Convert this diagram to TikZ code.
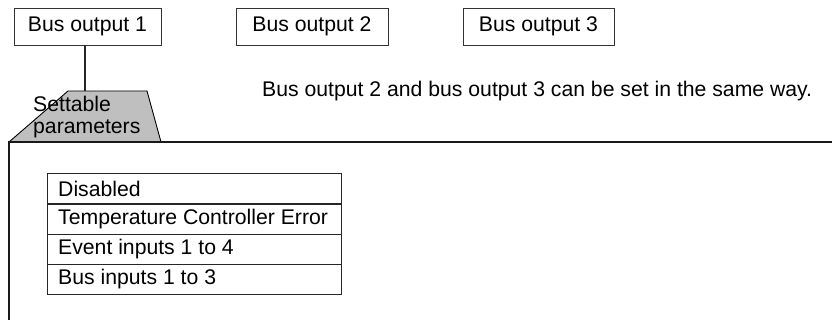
\documentclass[tikz,border=0pt]{standalone}
\usepackage{fontspec}
\setmainfont{Liberation Sans}
\begin{document}
\begin{tikzpicture}[x=1pt,y=-1pt,
  every node/.style={font=\fontsize{21.2}{21.5}\selectfont},
  outbox/.style={draw=black!80, line width=0.8pt, minimum height=37pt, inner sep=0pt},
  rowbox/.style={draw=black!85, line width=0.9pt, minimum height=30pt, minimum width=294pt, inner sep=0pt},
  frame/.style={line width=1.5pt, black!90},
  link/.style={line width=2.8pt, black!85},
  tabfill/.style={fill=black!25}]
\useasboundingbox (0,0) rectangle (832,320);
% tab shape
\coordinate (tl) at (68,91);
\coordinate (tr) at (147,91);
\coordinate (bl) at (9,142);
\coordinate (br) at (161,142);
\fill[tabfill] (bl) -- (tl) -- (tr) -- (br) -- cycle;
\draw[line width=0.9pt] (bl) -- (tl) -- (tr) -- (br);
% bus output boxes
\node[outbox, minimum width=147pt] (b1) at (87.5,26.5) {Bus output 1};
\node[outbox, minimum width=152pt] (b2) at (312,26.5) {Bus output 2};
\node[outbox, minimum width=151pt] (b3) at (538.5,26.5) {Bus output 3};
\coordinate (tabtop) at (85,91);
\draw[link] (b1.south -| tabtop) -- (tabtop);
\node[anchor=north west, align=left, inner sep=0pt] (tab) at (33,96) {Settable\\parameters};
% frame
\draw[frame] (9,320) -- (bl) -- (832,142);
% note
\node[anchor=west, inner sep=0pt] (note) at (262,91) {Bus output 2 and bus output 3 can be set in the same way.};
% list
\node[rowbox] (r1) at (194,188.5) {};
\node[rowbox] (r2) at (194,219) {};
\node[rowbox] (r3) at (194,249) {};
\node[rowbox] (r4) at (194,279) {};
\node[anchor=west, inner sep=0pt] (t1) at (58,188.5) {Disabled};
\node[anchor=west, inner sep=0pt] (t2) at (58,219) {Temperature Controller Error};
\node[anchor=west, inner sep=0pt] (t3) at (58,249) {Event inputs 1 to 4};
\node[anchor=west, inner sep=0pt] (t4) at (58,279) {Bus inputs 1 to 3};
\end{tikzpicture}
\end{document}
